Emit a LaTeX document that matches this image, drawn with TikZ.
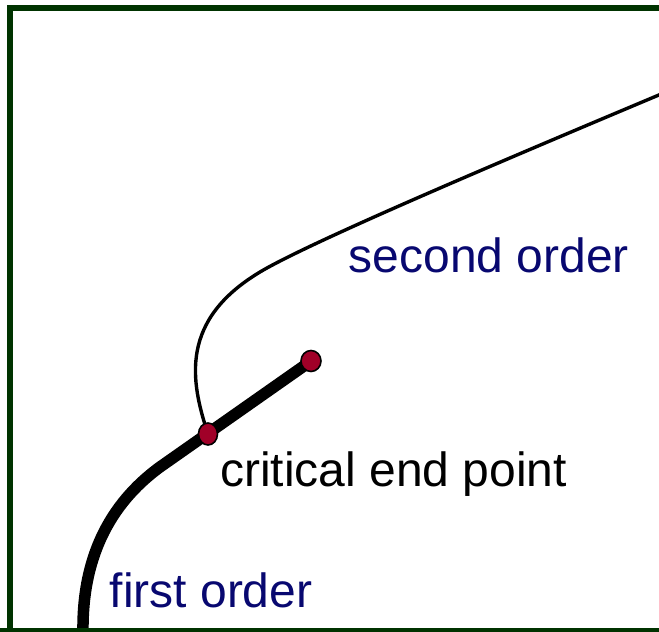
\documentclass[tikz,border=0pt]{standalone}
\usepackage{fontspec}
\setmainfont{Liberation Sans}
\usetikzlibrary{shapes.geometric}
\definecolor{framegreen}{RGB}{0,51,0}
\definecolor{labelblue}{RGB}{8,8,112}
\definecolor{dotred}{RGB}{160,0,40}
\tikzset{
  lbl/.style={anchor=base west, inner sep=0pt, font=\fontsize{48}{58}\selectfont},
  dotnode/.style={ellipse, draw=black, line width=1.6pt, fill=dotred, inner sep=0pt, minimum width=19pt, minimum height=22pt},
  firstline/.style={line width=11.5pt, black},
  secondline/.style={line width=3.4pt, black},
  frameline/.style={line width=6.5pt, framegreen}
}
\begin{document}
\begin{tikzpicture}[x=1pt,y=-1pt]
\useasboundingbox (0,0) rectangle (659,632);
\coordinate (bottom) at (83,640);
\coordinate (bend) at (160,467);
\coordinate (cep) at (208,434);
\coordinate (endp) at (311,361);
\coordinate (turn) at (260,272);
\coordinate (exit) at (666,92);
% first order line
\draw[firstline] (bottom) -- (83,632) .. controls (82,560) and (108,505) .. (bend) -- (endp.center);
% second order line
\draw[secondline] (cep) .. controls (190,380) and (180,320) .. (turn)
  .. controls (310,242) and (509,158) .. (exit);
% frame
\draw[frameline] (10,650) -- (10,8) -- (670,8);
\draw[frameline] (0,631) -- (670,631);
% dots
\node[dotnode] (cepdot) at (cep) {};
\node[dotnode, minimum width=20pt, minimum height=21pt] (enddot) at (endp) {};
% labels
\node[lbl, text=labelblue] (second) at (348.6,272) {second order};
\node[lbl, text=black] (critical) at (220,486) {critical end point};
\node[lbl, text=labelblue] (first) at (109.5,607) {first order};
\end{tikzpicture}
\end{document}
